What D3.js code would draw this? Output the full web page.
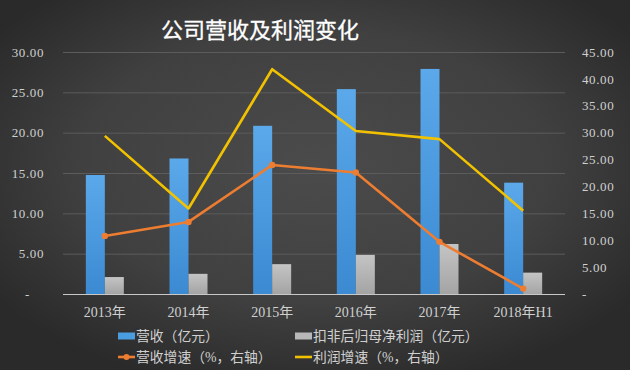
<!DOCTYPE html>
<html><head><meta charset="utf-8">
<script src="https://cdn.jsdelivr.net/npm/d3@7"></script>
<style>
html,body{margin:0;padding:0;background:#333;}
svg{display:block;}
</style></head>
<body>
<svg id="c" width="630" height="370"></svg>
<script>
const categories = ["2013年","2014年","2015年","2016年","2017年","2018年H1"];
const revenue = [14.75, 16.8, 20.85, 25.4, 27.9, 13.8];
const netProfit = [2.1, 2.5, 3.7, 4.85, 6.2, 2.65];
const revenueGrowth = [10.8, 13.4, 24.0, 22.6, 9.7, 1.0];
const profitGrowth = [29.4, 15.9, 41.8, 30.3, 28.8, 15.5];
const leftTicks = [0, 5, 10, 15, 20, 25, 30];
const rightTicks = [0, 5, 10, 15, 20, 25, 30, 35, 40, 45];
const legendLabels = ["营收（亿元）","扣非后归母净利润（亿元）","营收增速（%，右轴）","利润增速（%，右轴）"];
const title = "公司营收及利润变化";

const svg = d3.select("#c");
const W = 630, H = 370;
const m = {l:63, r:65, t:52, b:76};
const defs = svg.append("defs");
const bg = defs.append("radialGradient").attr("id","bg").attr("cx","50%").attr("cy","45%").attr("r","62%");
bg.append("stop").attr("offset","0%").attr("stop-color","#4b4b4b");
bg.append("stop").attr("offset","60%").attr("stop-color","#404040");
bg.append("stop").attr("offset","100%").attr("stop-color","#2a2a2a");
const gb = defs.append("linearGradient").attr("id","gblue").attr("x1",0).attr("y1",0).attr("x2",0).attr("y2",1);
gb.append("stop").attr("offset","0%").attr("stop-color","#5ba8ea");
gb.append("stop").attr("offset","100%").attr("stop-color","#3b8ad2");
const gg = defs.append("linearGradient").attr("id","ggray").attr("x1",0).attr("y1",0).attr("x2",0).attr("y2",1);
gg.append("stop").attr("offset","0%").attr("stop-color","#c4c4c4");
gg.append("stop").attr("offset","100%").attr("stop-color","#a4a4a4");

svg.append("rect").attr("width",W).attr("height",H).attr("fill","url(#bg)");

const x = d3.scaleBand().domain(categories).range([m.l, W-m.r]).paddingInner(0).paddingOuter(0);
const yL = d3.scaleLinear().domain([0,30]).range([H-m.b, m.t]);
const yR = d3.scaleLinear().domain([0,45]).range([H-m.b, m.t]);

const numFont = "'Liberation Serif','DejaVu Serif',serif";
const cjkFont = "'Liberation Serif','Noto Sans CJK SC',serif";

// gridlines
svg.append("g").selectAll("line").data(leftTicks.filter(d=>d>0)).join("line")
  .attr("x1",m.l).attr("x2",W-m.r).attr("y1",d=>yL(d)+0.5).attr("y2",d=>yL(d)+0.5)
  .attr("stroke","#5c5c5c").attr("stroke-width",1);

// left axis
const la = svg.append("g").attr("transform",`translate(${m.l-19},0)`)
  .call(d3.axisLeft(yL).tickValues(leftTicks).tickSize(0).tickPadding(0).tickFormat(d=>d===0?"-":d3.format(".2f")(d)));
la.select(".domain").remove();
la.selectAll("text").attr("fill","#d0d0d0").attr("font-family",numFont).attr("font-size",13).attr("letter-spacing","0.6px")
  .attr("dx", d=>d===0?-14:0);

// right axis
const ra = svg.append("g").attr("transform",`translate(${W-m.r+17},0)`)
  .call(d3.axisRight(yR).tickValues(rightTicks).tickSize(0).tickPadding(0).tickFormat(d=>d===0?"-":d3.format(".2f")(d)));
ra.select(".domain").remove();
ra.selectAll("text").attr("fill","#d0d0d0").attr("font-family",numFont).attr("font-size",13).attr("letter-spacing","0.6px");

// bars
const bw = 19;
svg.append("g").selectAll("rect").data(categories).join("rect")
  .attr("x",(d)=>x(d)+x.bandwidth()/2-bw).attr("width",bw)
  .attr("y",(d,i)=>yL(revenue[i])).attr("height",(d,i)=>yL(0)-yL(revenue[i]))
  .attr("fill","url(#gblue)");
svg.append("g").selectAll("rect").data(categories).join("rect")
  .attr("x",(d)=>x(d)+x.bandwidth()/2).attr("width",bw)
  .attr("y",(d,i)=>yL(netProfit[i])).attr("height",(d,i)=>yL(0)-yL(netProfit[i]))
  .attr("fill","url(#ggray)");

// baseline axis
svg.append("line").attr("x1",m.l).attr("x2",W-m.r).attr("y1",yL(0)+0.5).attr("y2",yL(0)+0.5)
  .attr("stroke","#c8c8c8").attr("stroke-width",1.2);

// x labels
const xa = svg.append("g").attr("transform",`translate(0,${yL(0)})`)
  .call(d3.axisBottom(x).tickSize(0).tickPadding(13));
xa.select(".domain").remove();
xa.selectAll("text").attr("fill","#d0d0d0").attr("font-family",cjkFont).attr("font-size",14);

// lines
const cx = d => x(d)+x.bandwidth()/2;
const lineR = d3.line().x((d,i)=>cx(categories[i])).y(d=>yR(d));
svg.append("path").datum(revenueGrowth).attr("d",lineR).attr("fill","none")
  .attr("stroke","#ed7d31").attr("stroke-width",2.6).attr("stroke-linejoin","round");
svg.append("g").selectAll("circle").data(revenueGrowth).join("circle")
  .attr("cx",(d,i)=>cx(categories[i])).attr("cy",d=>yR(d)).attr("r",3.2).attr("fill","#ed7d31");
svg.append("path").datum(profitGrowth).attr("d",lineR).attr("fill","none")
  .attr("stroke","#f2c200").attr("stroke-width",2.6).attr("stroke-linejoin","round");

// title
svg.append("text").attr("x",260).attr("y",38).attr("text-anchor","middle")
  .attr("fill","#ffffff").attr("font-family","'Noto Sans CJK SC',sans-serif").attr("font-weight","normal")
  .attr("stroke","#ffffff").attr("stroke-width",0.3)
  .attr("font-size",22).text(title);

// legend
const leg = [
  {x:118, y:336, type:"rect", color:"#4a9ee0", label:legendLabels[0]},
  {x:295, y:336, type:"rect", color:"#b8b8b8", label:legendLabels[1]},
  {x:118, y:357, type:"marker", color:"#ed7d31", label:legendLabels[2]},
  {x:295, y:357, type:"line", color:"#f2c200", label:legendLabels[3]},
];
const lg = svg.append("g").selectAll("g").data(leg).join("g").attr("transform",d=>`translate(${d.x},${d.y})`);
lg.each(function(d){
  const g = d3.select(this);
  if(d.type==="rect"){
    g.append("rect").attr("x",0).attr("y",-3.5).attr("width",17).attr("height",7).attr("fill",d.color);
  } else {
    g.append("line").attr("x1",0).attr("x2",17).attr("y1",0).attr("y2",0).attr("stroke",d.color).attr("stroke-width",2.6);
    if(d.type==="marker") g.append("circle").attr("cx",8.5).attr("cy",0).attr("r",3).attr("fill",d.color);
  }
  g.append("text").attr("x",18).attr("y",5).attr("fill","#d0d0d0").attr("font-family",cjkFont)
    .attr("font-weight","normal").attr("font-size",13.8).text(d.label);
});
</script>
</body></html>
